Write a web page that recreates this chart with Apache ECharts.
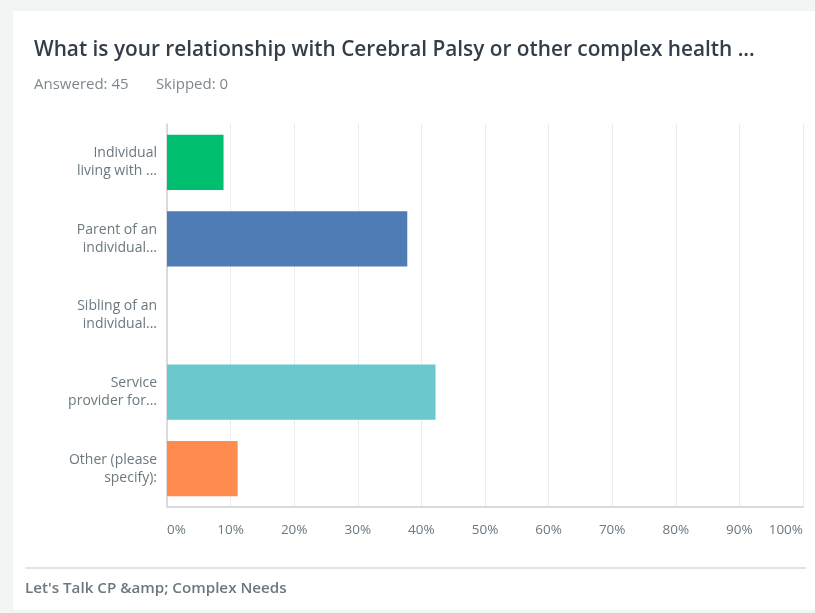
<!DOCTYPE html>
<html>
<head>
<meta charset="utf-8">
<script src="https://cdn.jsdelivr.net/npm/echarts@6/dist/echarts.min.js"></script>
<style>
  html, body { margin: 0; padding: 0; background: #f3f4f4; }
  #chart { width: 815px; height: 613px; }
</style>
</head>
<body>
<div id="chart"></div>
<script>
// answer choices (as shown, truncated in the survey export)
var categories = [
    'Individual\nliving with ...',
    'Parent of an\nindividual...',
    'Sibling of an\nindividual...',
    'Service\nprovider for...',
    'Other (please\nspecify):'
];
// percent of 45 respondents
var percents = [8.89, 37.78, 0, 42.22, 11.11];
var barColors = ['#00bf6f', '#507cb6', '#f9be00', '#6bc8cd', '#ff8b4f'];
var tickValues = [0, 10, 20, 30, 40, 50, 60, 70, 80, 90, 100];

var titleText = 'What is your relationship with Cerebral Palsy or other complex health ...';
var statsText = 'Answered: 45       Skipped: 0';
var footerText = "Let's Talk CP &amp; Complex Needs";

var labelFont = '"Open Sans", Roboto, sans-serif';

var chart = echarts.init(document.getElementById('chart'));

var option = {
    backgroundColor: '#f3f4f4',
    animation: false,
    graphic: [
        // white card
        { type: 'rect', z: -10, shape: { x: 13, y: 11, width: 810, height: 599 }, style: { fill: '#ffffff' } },
        { type: 'text', x: 34, y: 50, style: { text: titleText, font: '600 20.8px ' + labelFont, fill: '#333e48', verticalAlign: 'middle' } },
        { type: 'text', x: 34, y: 85, style: { text: statsText, font: '15px ' + labelFont, fill: '#7d878d', verticalAlign: 'middle' } },
        // footer
        { type: 'line', shape: { x1: 25, y1: 568, x2: 806, y2: 568 }, style: { stroke: '#d9dcdd', lineWidth: 1.5 } },
        { type: 'text', x: 25, y: 589, style: { text: footerText, font: '600 15.2px ' + labelFont, fill: '#6b787f', verticalAlign: 'middle' } }
    ],
    grid: { left: 167, right: 12, top: 124, bottom: 106, containLabel: false },
    xAxis: {
        type: 'value',
        min: 0,
        max: 100,
        interval: 10,
        axisLine: { show: true, lineStyle: { color: '#d8dadb', width: 2 } },
        axisTick: { show: false },
        splitLine: { show: true, lineStyle: { color: '#ebeced', width: 1 } },
        axisLabel: {
            margin: 16,
            color: '#6b787f',
            fontFamily: labelFont,
            fontSize: 13.5,
            alignMinLabel: 'left',
            alignMaxLabel: 'right',
            formatter: function (v) { return tickValues.indexOf(v) >= 0 ? v + '%' : ''; }
        }
    },
    yAxis: {
        type: 'category',
        inverse: true,
        data: categories,
        axisLine: { show: true, lineStyle: { color: '#d0d2d3', width: 1.5 } },
        axisTick: { show: false },
        axisLabel: {
            margin: 10,
            color: '#6b787f',
            fontFamily: labelFont,
            fontSize: 14,
            lineHeight: 18,
            align: 'right'
        }
    },
    series: [{
        type: 'bar',
        barCategoryGap: '28%',
        data: percents.map(function (v, i) {
            return { value: v, itemStyle: { color: barColors[i] } };
        })
    }]
};

chart.setOption(option);
</script>
</body>
</html>
